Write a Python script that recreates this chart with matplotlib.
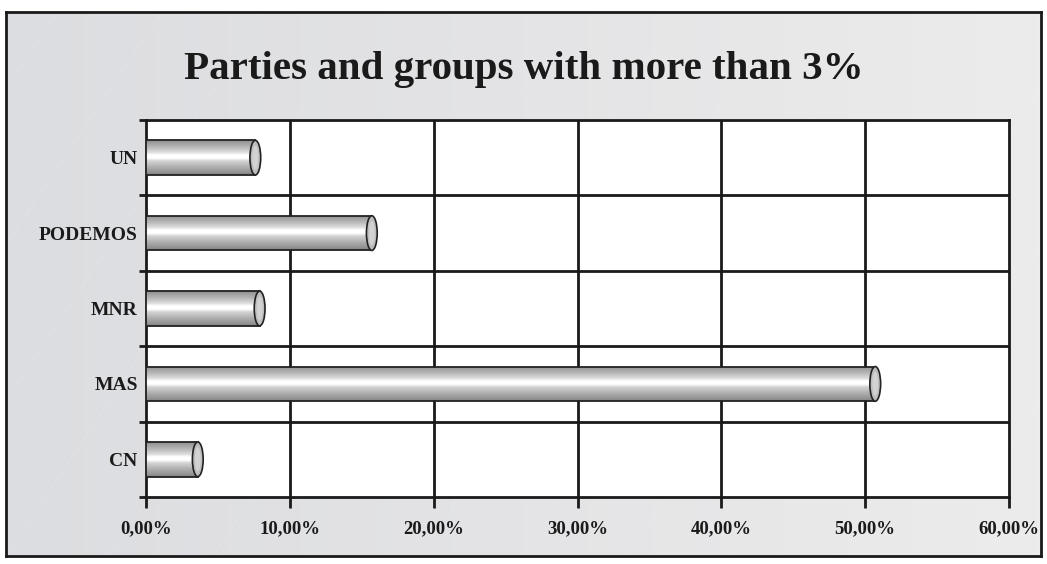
import numpy as np
import matplotlib.pyplot as plt
from matplotlib.patches import Ellipse, Rectangle
from matplotlib.colors import LinearSegmentedColormap

parties = ["CN", "MAS", "MNR", "PODEMOS", "UN"]
shares = [3.6, 50.7, 7.9, 15.7, 7.6]
xticks = [0, 10, 20, 30, 40, 50, 60]
xticklabels = ["0,00%", "10,00%", "20,00%", "30,00%", "40,00%", "50,00%", "60,00%"]
title = "Parties and groups with more than 3%"

plt.rcParams["font.family"] = ["Liberation Serif", "DejaVu Serif"]

fig = plt.figure(figsize=(10.47, 5.64), dpi=100)
fig.patch.set_facecolor("white")

# gray panel behind everything
bg = fig.add_axes([6 / 1047, 8 / 564, 1035 / 1047, 544 / 564])
bg_cmap = LinearSegmentedColormap.from_list("bg", ["#dcdde0", "#e4e4e6", "#ececec"])
bg.imshow(np.linspace(0, 1, 256).reshape(1, -1), cmap=bg_cmap, aspect="auto",
          extent=(0, 1, 0, 1))
# faint diagonal streaks
for x0 in np.arange(-0.6, 1.2, 0.1):
    bg.plot([x0, x0 + 0.35], [0, 1], color="white", lw=0.5, alpha=0.18)
bg.set_xlim(0, 1)
bg.set_ylim(0, 1)
bg.set_xticks([])
bg.set_yticks([])
for s in bg.spines.values():
    s.set_linewidth(2)
    s.set_color("#1a1a1a")

fig.text(0.5, 1 - 79 / 564, title, ha="center", va="baseline",
         fontsize=29.5, fontweight="bold", color="#1a1a1a")

ax = fig.add_axes([146 / 1047, 1 - 497 / 564, 863 / 1047, 377 / 564])
ax.set_facecolor("white")
ax.set_xlim(0, 60)
ax.set_ylim(-0.5, len(parties) - 0.5)

# grid lines
for x in xticks[1:-1]:
    ax.axvline(x, color="#1a1a1a", lw=2, zorder=1)
for y in np.arange(0.5, len(parties) - 0.5, 1):
    ax.axhline(y, color="#1a1a1a", lw=2, zorder=1)

# cylinder bars
cyl = LinearSegmentedColormap.from_list("cyl", [
    (0.0, "#8f8f8f"), (0.12, "#a8a8a8"), (0.25, "#c4c4c4"), (0.36, "#e2e2e2"),
    (0.42, "#ffffff"), (0.52, "#ffffff"), (0.6, "#d4d4d4"), (0.75, "#b4b4b4"),
    (0.9, "#999999"), (1.0, "#858585")])
grad = np.linspace(0, 1, 64).reshape(-1, 1)
h = 0.46
cap_w = 0.75
for i, v in enumerate(shares):
    rect = Rectangle((0, i - h / 2), v, h, facecolor="none", edgecolor="#222222",
                     lw=1.3, zorder=4)
    ax.add_patch(rect)
    im = ax.imshow(grad, cmap=cyl, aspect="auto", origin="upper",
                   extent=(0, v, i - h / 2, i + h / 2), zorder=3)
    im.set_clip_path(rect)
    ax.add_patch(Ellipse((v, i), cap_w, h, facecolor="#bdbdbd",
                         edgecolor="#222222", lw=1.2, zorder=5))
    ax.add_patch(Ellipse((v, i), cap_w * 0.55, h * 0.7, facecolor="#d2d2d2",
                         edgecolor="none", zorder=6))

ax.set_xticks(xticks)
ax.set_xticklabels(xticklabels, fontsize=13.5, fontweight="bold", color="#1a1a1a")
ax.tick_params(axis="x", length=8, width=2, pad=9, color="#1a1a1a")

ax.set_yticks(range(len(parties)))
ax.set_yticklabels(parties, fontsize=14, fontweight="bold", color="#1a1a1a")
ax.set_yticks(np.arange(-0.5, len(parties), 1), minor=True)
ax.tick_params(axis="y", which="major", length=0, pad=6)
ax.tick_params(axis="y", which="minor", length=5, width=2, color="#1a1a1a")
ax.tick_params(axis="x", which="minor", length=0)

for s in ax.spines.values():
    s.set_linewidth(2)
    s.set_color("#1a1a1a")

fig.savefig("out.png", dpi=100, facecolor="white")
